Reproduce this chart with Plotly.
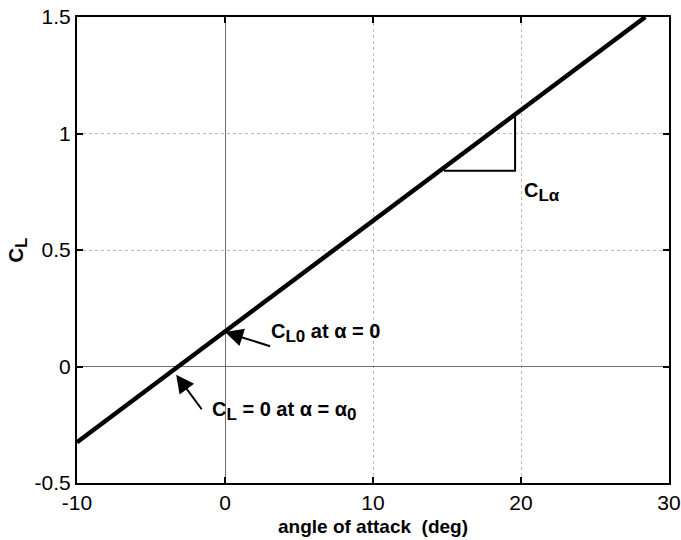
import plotly.graph_objects as go

# Lift curve: C_L versus angle of attack (deg)
alpha = [-10, 28.4]
cl = [-0.325, 1.5]

# Slope triangle marking C_L-alpha
tri_alpha = [14.8, 19.6, 19.6]
tri_cl = [0.84, 0.84, 1.08]

x_ticks = [-10, 0, 10, 20, 30]
y_ticks = [-0.5, 0, 0.5, 1, 1.5]

FONT = "Liberation Sans, Arial, sans-serif"


def sub(s):
    # slightly larger subscript than plotly's default
    return f"<sub><span style='font-size:17px'>{s}</span></sub>"


fig = go.Figure()
fig.add_trace(go.Scatter(x=alpha, y=cl, mode="lines",
                         line=dict(color="black", width=4.5), showlegend=False))
fig.add_trace(go.Scatter(x=tri_alpha, y=tri_cl, mode="lines",
                         line=dict(color="black", width=2), showlegend=False))

# Arrow annotations pointing at the curve
arrows = [
    dict(x=0.0, y=0.148, ax=3.15, ay=0.085),
    dict(x=-3.3, y=-0.035, ax=-1.5, ay=-0.19),
]
for a in arrows:
    fig.add_annotation(x=a["x"], y=a["y"], ax=a["ax"], ay=a["ay"],
                       xref="x", yref="y", axref="x", ayref="y", text="",
                       showarrow=True, arrowhead=2, arrowsize=1.8,
                       arrowwidth=2, arrowcolor="black")

labels = [
    dict(x=2.95, y=0.145, text=f"<b>C{sub('L0')} at α = 0</b>"),
    dict(x=-1.0, y=-0.19, text=f"<b>C{sub('L')} = 0 at α = α{sub('0')}</b>"),
    dict(x=20.05, y=0.75, text=f"<b>C{sub('Lα')}</b>"),
]
for lb in labels:
    fig.add_annotation(x=lb["x"], y=lb["y"], xref="x", yref="y", text=lb["text"],
                       showarrow=False, xanchor="left", yanchor="middle",
                       font=dict(family=FONT, size=20, color="black"))

axis_common = dict(
    showline=True, linewidth=2, linecolor="black", mirror="ticks",
    ticks="inside", ticklen=6, tickwidth=2, tickcolor="black",
    showgrid=True, gridcolor="#b8b8b8", gridwidth=1, griddash="dot",
    zeroline=True, zerolinecolor="#707070", zerolinewidth=1.2,
    tickfont=dict(family=FONT, size=21, color="black"),
)

fig.update_xaxes(range=[-10, 30], tickvals=x_ticks,
                 ticktext=[str(v) for v in x_ticks],
                 title=dict(text="<b>angle of attack  (deg)</b>", standoff=6,
                            font=dict(family=FONT, size=19, color="black")),
                 **axis_common)
fig.update_yaxes(range=[-0.5, 1.5], tickvals=y_ticks,
                 ticktext=["-0.5", "0", "0.5", "1", "1.5"],
                 title=dict(text=f"<b>C{sub('L')}</b>", standoff=6,
                            font=dict(family=FONT, size=20, color="black")),
                 **axis_common)

fig.update_layout(
    width=681, height=540,
    margin=dict(l=77, r=12, t=17, b=57, autoexpand=False),
    plot_bgcolor="white", paper_bgcolor="white",
    showlegend=False,
)

fig.write_html("out.html")
